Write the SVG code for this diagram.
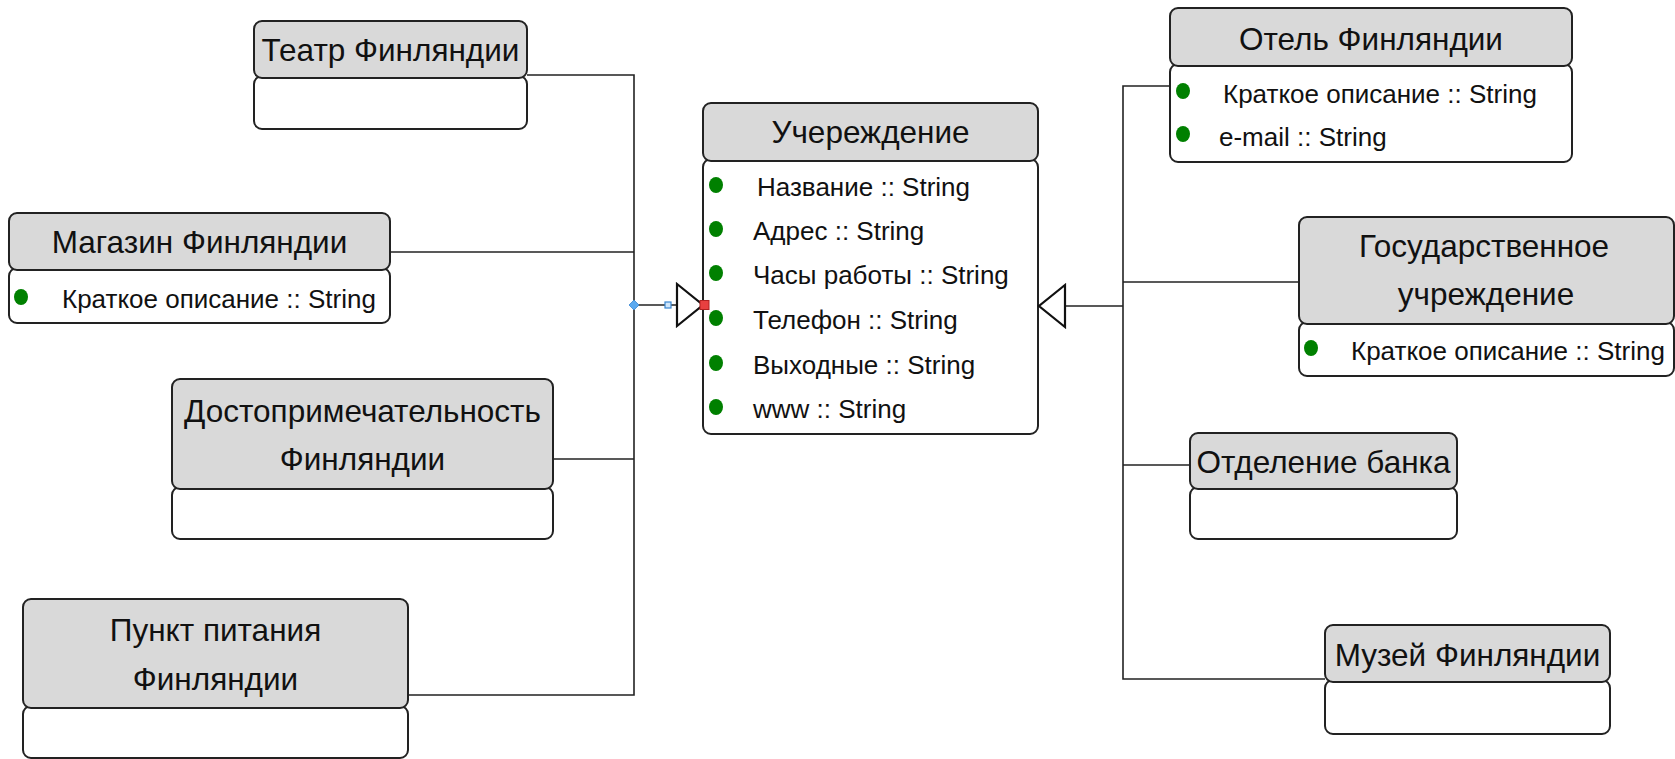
<svg xmlns="http://www.w3.org/2000/svg" width="1675" height="759" viewBox="0 0 1675 759">
<style>
.hd{fill:#d9d9d9;stroke:#222;stroke-width:2}
.bd{fill:#fff;stroke:#222;stroke-width:2}
.t{font-family:"Liberation Sans",Arial,sans-serif;font-size:31.5px;fill:#111;text-anchor:middle}
.a{font-family:"Liberation Sans",Arial,sans-serif;font-size:26px;fill:#111}
.dot{fill:#008000}
.ln{fill:none;stroke:#222;stroke-width:1.6}
.tri{fill:#fff;stroke:#111;stroke-width:2.2}
</style>
<rect width="1675" height="759" fill="#fff"/>
<g id="teatr">
  <rect class="bd" x="254" y="76" width="273" height="53" rx="8"/>
  <rect class="hd" x="254" y="21" width="273" height="57" rx="8"/>
  <text class="t" x="390.5" y="61">Театр Финляндии</text>
</g>
<g id="magazin">
  <rect class="bd" x="9" y="268" width="381" height="55" rx="8"/>
  <rect class="hd" x="9" y="213" width="381" height="57" rx="8"/>
  <text class="t" x="199.5" y="253">Магазин Финляндии</text>
  <ellipse class="dot" cx="21" cy="297" rx="7" ry="8"/>
  <text class="a" x="62" y="308">Краткое описание :: String</text>
</g>
<g id="dostop">
  <rect class="bd" x="172" y="487" width="381" height="52" rx="8"/>
  <rect class="hd" x="172" y="379" width="381" height="110" rx="8"/>
  <text class="t" x="362.5" y="422">Достопримечательность</text>
  <text class="t" x="362.5" y="470">Финляндии</text>
</g>
<g id="punkt">
  <rect class="bd" x="23" y="706" width="385" height="52" rx="8"/>
  <rect class="hd" x="23" y="599" width="385" height="109" rx="8"/>
  <text class="t" x="215.5" y="641">Пункт питания</text>
  <text class="t" x="215.5" y="690">Финляндии</text>
</g>
<g id="uchrezhdenie">
  <rect class="bd" x="703" y="159" width="335" height="275" rx="8"/>
  <rect class="hd" x="703" y="103" width="335" height="58" rx="8"/>
  <text class="t" x="870.5" y="143">Учереждение</text>
  <ellipse class="dot" cx="716" cy="185" rx="7" ry="8"/>
  <ellipse class="dot" cx="716" cy="229" rx="7" ry="8"/>
  <ellipse class="dot" cx="716" cy="273" rx="7" ry="8"/>
  <ellipse class="dot" cx="716" cy="318" rx="7" ry="8"/>
  <ellipse class="dot" cx="716" cy="363" rx="7" ry="8"/>
  <ellipse class="dot" cx="716" cy="407" rx="7" ry="8"/>
  <text class="a" x="757" y="196">Название :: String</text>
  <text class="a" x="753" y="240">Адрес :: String</text>
  <text class="a" x="753" y="284">Часы работы :: String</text>
  <text class="a" x="753" y="329">Телефон :: String</text>
  <text class="a" x="753" y="374">Выходные :: String</text>
  <text class="a" x="753" y="418">www :: String</text>
</g>
<g id="otel">
  <rect class="bd" x="1170" y="64" width="402" height="98" rx="8"/>
  <rect class="hd" x="1170" y="8" width="402" height="58" rx="8"/>
  <text class="t" x="1371" y="50">Отель Финляндии</text>
  <ellipse class="dot" cx="1183" cy="91" rx="7" ry="8"/>
  <ellipse class="dot" cx="1183" cy="134" rx="7" ry="8"/>
  <text class="a" x="1223" y="103">Краткое описание :: String</text>
  <text class="a" x="1219" y="146">e-mail :: String</text>
</g>
<g id="gos">
  <rect class="bd" x="1299" y="322" width="375" height="54" rx="8"/>
  <rect class="hd" x="1299" y="217" width="375" height="107" rx="8"/>
  <text class="t" x="1484" y="257">Государственное</text>
  <text class="t" x="1486" y="305">учреждение</text>
  <ellipse class="dot" cx="1311" cy="348" rx="7" ry="8"/>
  <text class="a" x="1351" y="360">Краткое описание :: String</text>
</g>
<g id="bank">
  <rect class="bd" x="1190" y="487" width="267" height="52" rx="8"/>
  <rect class="hd" x="1190" y="433" width="267" height="56" rx="8"/>
  <text class="t" x="1323.5" y="473">Отделение банка</text>
</g>
<g id="muzei">
  <rect class="bd" x="1325" y="680" width="285" height="54" rx="8"/>
  <rect class="hd" x="1325" y="625" width="285" height="57" rx="8"/>
  <text class="t" x="1467.5" y="666">Музей Финляндии</text>
</g>
<g id="connectors">
  <polyline class="ln" points="527,75 634,75 634,695 408,695"/>
  <line class="ln" x1="390" y1="252" x2="634" y2="252"/>
  <line class="ln" x1="553" y1="459" x2="634" y2="459"/>
  <line class="ln" x1="634" y1="305" x2="677" y2="305"/>
  <polygon class="tri" points="677,284 677,326 703,305"/>
  <polygon points="634,300 639,305 634,310 629,305" fill="#5aa9f0" stroke="#3a86d0" stroke-width="0.8"/>
  <rect x="665" y="302" width="6" height="6" fill="#cfe6fb" stroke="#3a86d0" stroke-width="1.2"/>
  <rect x="700" y="300.5" width="9" height="9" fill="#e84040" stroke="#b02020" stroke-width="1"/>
  <polyline class="ln" points="1170,86 1123,86 1123,679 1325,679"/>
  <line class="ln" x1="1123" y1="282" x2="1299" y2="282"/>
  <line class="ln" x1="1123" y1="465" x2="1190" y2="465"/>
  <line class="ln" x1="1065" y1="306" x2="1123" y2="306"/>
  <polygon class="tri" points="1065,285 1065,327 1039,306"/>
</g>
</svg>
